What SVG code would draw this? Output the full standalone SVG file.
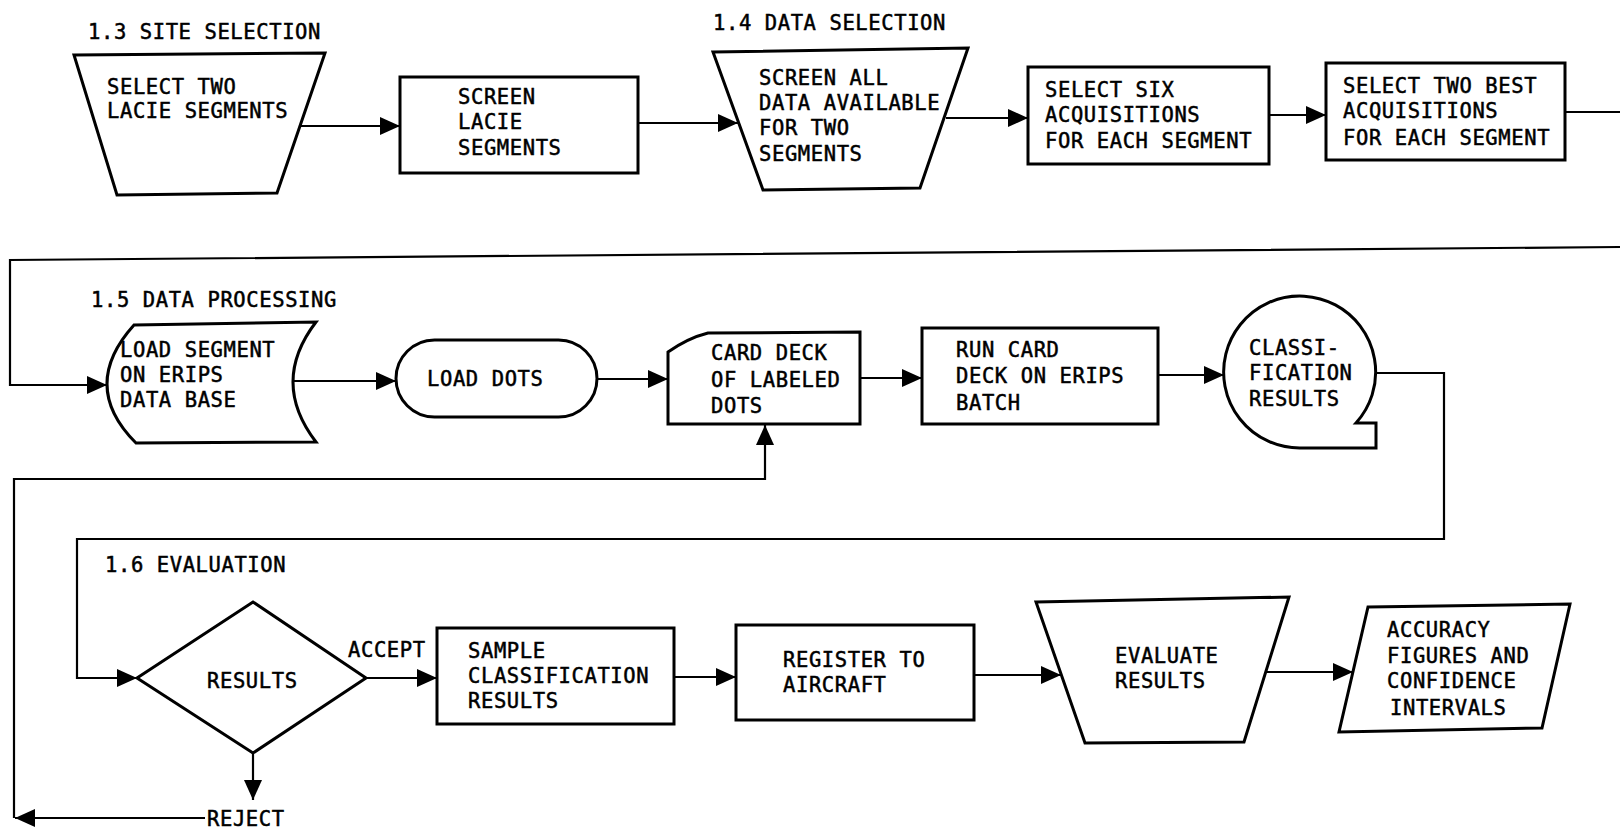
<svg xmlns="http://www.w3.org/2000/svg" width="1620" height="830" viewBox="0 0 1620 830">
<style>
.s{fill:#fff;stroke:#000;stroke-width:3;stroke-linejoin:miter}
.c{fill:none;stroke:#000;stroke-width:2.2}
.t{font-family:"DejaVu Sans Mono","Liberation Mono",monospace;font-size:20.5px;letter-spacing:0.6px;fill:#000;stroke:#000;stroke-width:0.5}
</style>
<defs>
<marker id="ah" markerUnits="userSpaceOnUse" markerWidth="20" markerHeight="18" viewBox="0 0 20 18" refX="20" refY="9" orient="auto"><path d="M0,0 L20,9 L0,18 Z" fill="#000"/></marker>
</defs>
<rect width="1620" height="830" fill="#fff"/>
<g id="labels">
<text class="t" x="88" y="39">1.3 SITE SELECTION</text>
<text class="t" x="713" y="30">1.4 DATA SELECTION</text>
<text class="t" x="91" y="307">1.5 DATA PROCESSING</text>
<text class="t" x="105" y="572">1.6 EVALUATION</text>
</g>
<g id="connectors">
<path class="c" d="M301,126 L400,126" marker-end="url(#ah)"/>
<path class="c" d="M638,123 L738,123" marker-end="url(#ah)"/>
<path class="c" d="M946,118 L1028,118" marker-end="url(#ah)"/>
<path class="c" d="M1269,115 L1326,115" marker-end="url(#ah)"/>
<path class="c" d="M1565,112 L1620,112"/>
<path class="c" d="M1620,247 L10,260 L10,385 L107,385" marker-end="url(#ah)"/>
<path class="c" d="M293,381 L396,381" marker-end="url(#ah)"/>
<path class="c" d="M597,379 L668,379" marker-end="url(#ah)"/>
<path class="c" d="M860,378 L922,378" marker-end="url(#ah)"/>
<path class="c" d="M1158,375 L1224,375" marker-end="url(#ah)"/>
<path class="c" d="M1376,373 L1444,373 L1444,539 L77,539 L77,678 L137,678" marker-end="url(#ah)"/>
<path class="c" d="M366,678 L437,678" marker-end="url(#ah)"/>
<path class="c" d="M674,677 L736,677" marker-end="url(#ah)"/>
<path class="c" d="M974,675 L1061,675" marker-end="url(#ah)"/>
<path class="c" d="M1267,672 L1353,672" marker-end="url(#ah)"/>
<path class="c" d="M253,753 L253,800" marker-end="url(#ah)"/>
<path class="c" d="M205,818 L15,818" marker-end="url(#ah)"/>
<path class="c" d="M14,818 L14,479 L765,479 L765,425" marker-end="url(#ah)"/>
</g>
<g id="n1">
<polygon class="s" points="74,55 325,53 277,193 117,195"/>
<text class="t" x="107" y="94">SELECT TWO</text>
<text class="t" x="107" y="118">LACIE SEGMENTS</text>
</g>
<g id="n2">
<rect class="s" x="400" y="77" width="238" height="96"/>
<text class="t" x="458" y="104">SCREEN</text>
<text class="t" x="458" y="129">LACIE</text>
<text class="t" x="458" y="155">SEGMENTS</text>
</g>
<g id="n3">
<polygon class="s" points="713,52 968,48 920,188 763,190"/>
<text class="t" x="759" y="85">SCREEN ALL</text>
<text class="t" x="759" y="110">DATA AVAILABLE</text>
<text class="t" x="759" y="135">FOR TWO</text>
<text class="t" x="759" y="161">SEGMENTS</text>
</g>
<g id="n4">
<rect class="s" x="1028" y="67" width="241" height="97"/>
<text class="t" x="1045" y="97">SELECT SIX</text>
<text class="t" x="1045" y="122">ACQUISITIONS</text>
<text class="t" x="1045" y="148">FOR EACH SEGMENT</text>
</g>
<g id="n5">
<rect class="s" x="1326" y="63" width="239" height="97"/>
<text class="t" x="1343" y="93">SELECT TWO BEST</text>
<text class="t" x="1343" y="118">ACQUISITIONS</text>
<text class="t" x="1343" y="145">FOR EACH SEGMENT</text>
</g>
<g id="n6">
<path class="s" d="M134,325 L316,322 Q270,382 316,442 L136,443 Q79,386 134,325 Z"/>
<text class="t" x="120" y="357">LOAD SEGMENT</text>
<text class="t" x="120" y="382">ON ERIPS</text>
<text class="t" x="120" y="407">DATA BASE</text>
</g>
<g id="n7">
<rect class="s" x="396" y="340" width="201" height="77" rx="38.5" ry="38.5"/>
<text class="t" x="427" y="386">LOAD DOTS</text>
</g>
<g id="n8">
<path class="s" d="M668,352 Q688,338 708,333 L860,332 L860,424 L668,424 Z"/>
<text class="t" x="711" y="360">CARD DECK</text>
<text class="t" x="711" y="387">OF LABELED</text>
<text class="t" x="711" y="413">DOTS</text>
</g>
<g id="n9">
<rect class="s" x="922" y="328" width="236" height="96"/>
<text class="t" x="956" y="357">RUN CARD</text>
<text class="t" x="956" y="383">DECK ON ERIPS</text>
<text class="t" x="956" y="410">BATCH</text>
</g>
<g id="n10">
<path class="s" d="M1356,423 A76,76 0 1 0 1300,448 L1376,448 L1376,423 Z"/>
<text class="t" x="1249" y="355">CLASSI-</text>
<text class="t" x="1249" y="380">FICATION</text>
<text class="t" x="1249" y="406">RESULTS</text>
</g>
<g id="n11">
<polygon class="s" points="137,678 253,602 366,678 253,753"/>
<text class="t" x="207" y="688">RESULTS</text>
<text class="t" x="348" y="657">ACCEPT</text>
<text class="t" x="207" y="826">REJECT</text>
</g>
<g id="n12">
<rect class="s" x="437" y="628" width="237" height="96"/>
<text class="t" x="468" y="658">SAMPLE</text>
<text class="t" x="468" y="683">CLASSIFICATION</text>
<text class="t" x="468" y="708">RESULTS</text>
</g>
<g id="n13">
<rect class="s" x="736" y="625" width="238" height="95"/>
<text class="t" x="783" y="667">REGISTER TO</text>
<text class="t" x="783" y="692">AIRCRAFT</text>
</g>
<g id="n14">
<polygon class="s" points="1036,602 1289,597 1244,742 1085,743"/>
<text class="t" x="1115" y="663">EVALUATE</text>
<text class="t" x="1115" y="688">RESULTS</text>
</g>
<g id="n15">
<polygon class="s" points="1368,607 1570,604 1542,728 1339,732"/>
<text class="t" x="1387" y="637">ACCURACY</text>
<text class="t" x="1387" y="663">FIGURES AND</text>
<text class="t" x="1387" y="688">CONFIDENCE</text>
<text class="t" x="1390" y="715">INTERVALS</text>
</g>
</svg>
